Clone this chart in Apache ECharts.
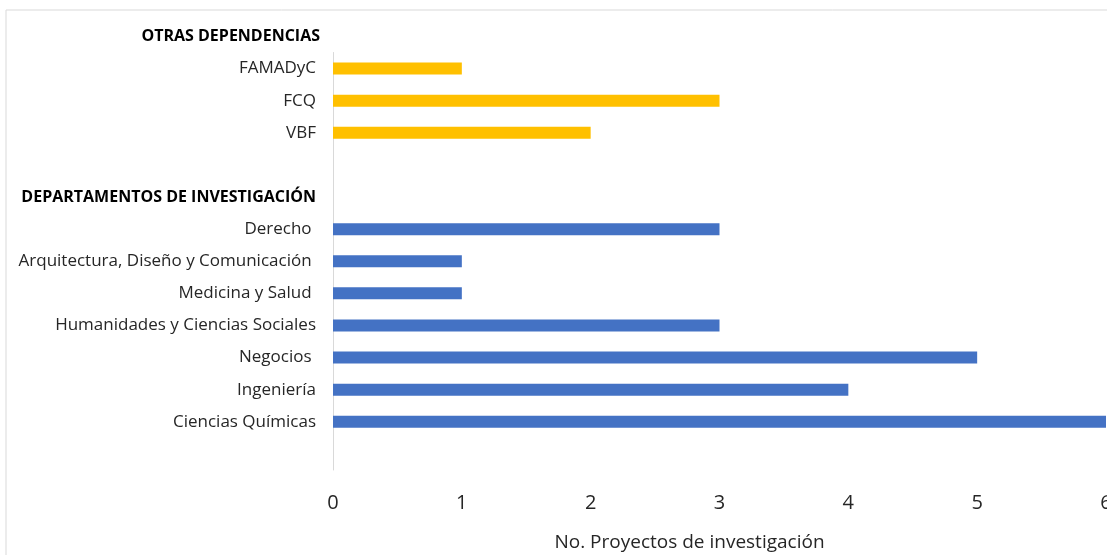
<!DOCTYPE html>
<html>
<head>
<meta charset="utf-8">
<script src="https://cdn.jsdelivr.net/npm/echarts@6/dist/echarts.min.js"></script>
<style>
  html, body { margin: 0; padding: 0; background: #fff; }
  #chart { width: 1107px; height: 555px; }
</style>
</head>
<body>
<div id="chart"></div>
<script>
// categorias de arriba hacia abajo
const categories = [
  'FAMADyC', 'FCQ', 'VBF', ' ',
  'DEPARTAMENTOS DE INVESTIGACIÓN',
  'Derecho ', 'Arquitectura, Diseño y Comunicación ', 'Medicina y Salud ',
  'Humanidades y Ciencias Sociales', 'Negocios ', 'Ingeniería', 'Ciencias Químicas', '  '
];
const headers = ['OTRAS DEPENDENCIAS', 'DEPARTAMENTOS DE INVESTIGACIÓN'];
const otrasValues = [1, 3, 2, null, null, null, null, null, null, null, null, null, null];
const deptValues = [null, null, null, null, null, 3, 1, 1, 3, 5, 4, 6, null];
const xTicks = [0, 1, 2, 3, 4, 5, 6];
const axisName = 'No. Proyectos de investigación';

const FONT = '"Open Sans", "Noto Sans", sans-serif';

const chart = echarts.init(document.getElementById('chart'));

chart.setOption({
  animation: false,
  backgroundColor: '#fff',
  grid: { left: 333, right: 1, top: 52.5, bottom: 85, outerBoundsMode: 'none', containLabel: false },
  graphic: [
    {
      type: 'rect',
      shape: { x: 6, y: 10, width: 1200, height: 600 },
      style: { fill: 'none', stroke: '#d9d9d9', lineWidth: 1 },
      silent: true
    },
    {
      type: 'text',
      x: 320,
      y: 36,
      style: {
        text: headers[0],
        font: 'bold 16px ' + FONT,
        fill: '#000',
        align: 'right',
        verticalAlign: 'middle'
      }
    }
  ],
  xAxis: {
    type: 'value',
    min: xTicks[0],
    max: xTicks[xTicks.length - 1],
    interval: 1,
    axisLine: { show: false },
    axisTick: { show: false },
    splitLine: { show: false },
    axisLabel: { margin: 23, fontSize: 20, color: '#262626', fontFamily: FONT },
    name: axisName,
    nameLocation: 'middle',
    nameGap: 63,
    nameTextStyle: { fontSize: 19, color: '#262626', fontFamily: FONT, padding: [0, 60, 0, 0] }
  },
  yAxis: {
    type: 'category',
    inverse: true,
    data: categories,
    axisLine: { show: true, lineStyle: { color: '#d9d9d9', width: 1 } },
    axisTick: { show: false },
    axisLabel: {
      margin: 17,
      interval: 0,
      fontSize: 17,
      color: '#262626',
      fontFamily: FONT,
      formatter: v => (headers.indexOf(v) >= 0 ? '{h|' + v + '}' : v),
      rich: {
        h: { fontSize: 16, fontWeight: 'bold', color: '#000', fontFamily: FONT }
      }
    }
  },
  series: [
    {
      name: 'Otras dependencias',
      type: 'bar',
      data: otrasValues,
      barWidth: 12,
      barGap: '-100%',
      itemStyle: { color: '#ffc000' }
    },
    {
      name: 'Departamentos',
      type: 'bar',
      data: deptValues,
      barWidth: 12,
      itemStyle: { color: '#4472c4' }
    }
  ]
});
</script>
</body>
</html>
